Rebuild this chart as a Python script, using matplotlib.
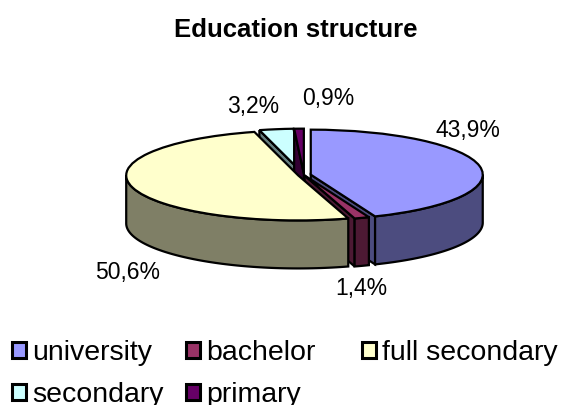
import numpy as np
import matplotlib
matplotlib.use("Agg")
import matplotlib.pyplot as plt
from matplotlib.patches import Polygon

plt.rcParams['font.family'] = ['Liberation Sans', 'DejaVu Sans']

categories = ["university", "bachelor", "full secondary", "secondary", "primary"]
values = [43.9, 1.4, 50.6, 3.2, 0.9]
colors = ["#9999FF", "#993366", "#FFFFCC", "#CCFFFF", "#660066"]
side_colors = ["#4C4C7F", "#4C1933", "#7F7F66", "#667F7F", "#330033"]
explode = [0.04, 0.01, 0.035, 0.03, 0.03]

W, H = 563, 405
cx, cy = 304, 175   # pie centre in pixels
a, b = 172, 45      # pixels per data unit, x and y
depth = 48 / b

fig = plt.figure(figsize=(W / 100, H / 100), dpi=100)
ax = fig.add_axes([0, 0, 1, 1])

wedges, _ = ax.pie(values, colors=colors, startangle=90, counterclock=False,
                   explode=explode,
                   wedgeprops=dict(edgecolor="black", linewidth=1.6))
ax.set_aspect("auto")
ax.set_xlim(-cx / a, (W - cx) / a)
ax.set_ylim((cy - H) / b, cy / b)
ax.axis("off")


def add_poly(pts, color, z):
    ax.add_patch(Polygon(pts, closed=True, facecolor=color, edgecolor="black",
                         linewidth=1.6, zorder=z))


# back slices first, front ones painted over them
draw_order = [3, 4, 0, 1, 2]
for n, i in enumerate(draw_order):
    w = wedges[i]
    x0, y0 = w.center
    z = 2 + n * 2
    t1, t2 = w.theta1, w.theta2

    # flat faces of the cut
    for ang, show in ((t1, np.cos(np.radians(t1)) > 0.01), (t2, np.cos(np.radians(t2)) < -0.01)):
        if show:
            ex = x0 + w.r * np.cos(np.radians(ang))
            ey = y0 + w.r * np.sin(np.radians(ang))
            add_poly([(x0, y0), (ex, ey), (ex, ey - depth), (x0, y0 - depth)], side_colors[i], z)

    # outer wall, only the lower half can be seen
    lo, hi = max(t1, -180), min(t2, 0)
    if lo < hi:
        th = np.radians(np.linspace(lo, hi, 80))
        xs = x0 + w.r * np.cos(th)
        ys = y0 + w.r * np.sin(th)
        pts = list(zip(xs, ys)) + list(zip(xs[::-1], ys[::-1] - depth))
        add_poly(pts, side_colors[i], z)
    w.set_zorder(z + 1)

fig.text(296 / W, 1 - 30 / H, "Education structure", fontsize=18.5, fontweight="bold",
         ha="center", va="center")

# pct labels
label_pos = [(468, 130), (361, 289), (128, 272), (253, 107), (328, 98)]
for v, (x, y) in zip(values, label_pos):
    fig.text(x / W, 1 - y / H, f"{v:.1f}".replace(".", ",") + "%", fontsize=16.5,
             ha="center", va="center")

# one legend per column, their widths are not even in the original
legend_cols = [([0, 3], 12), ([1, 4], 186), ([2], 362)]
for idx, x in legend_cols:
    leg = fig.legend([wedges[i] for i in idx], [categories[i] for i in idx],
                     loc="upper left", bbox_to_anchor=(x / W, 1 - 340 / H),
                     frameon=False, fontsize=20.5, borderpad=0, borderaxespad=0,
                     handlelength=0.5, handleheight=0.5, handletextpad=0.2,
                     labelspacing=0.56)
    for h in leg.legend_handles:
        h.set_linewidth(2.2)

fig.savefig("out.png", dpi=100)
